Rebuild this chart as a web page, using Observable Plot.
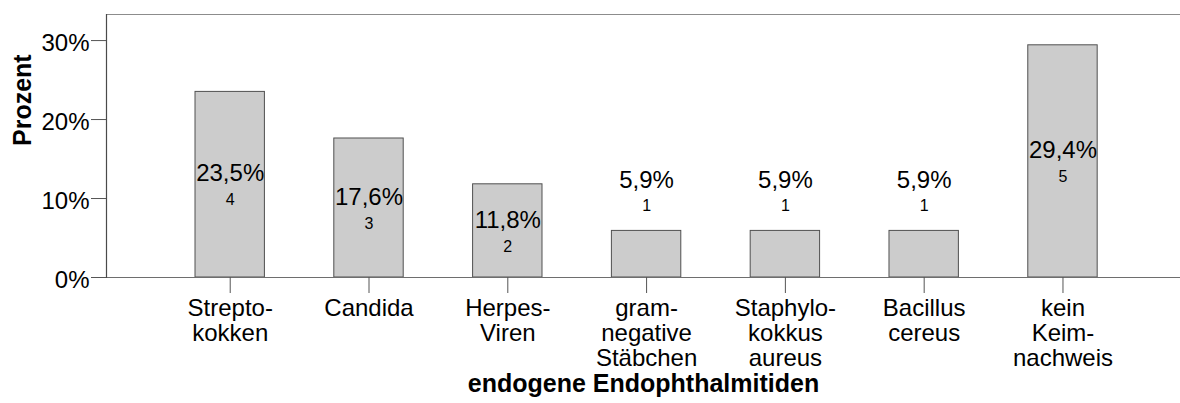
<!DOCTYPE html>
<html>
<head>
<meta charset="utf-8">
<script src="https://cdn.jsdelivr.net/npm/d3@7"></script>
<script src="https://cdn.jsdelivr.net/npm/@observablehq/plot@0.6"></script>
<style>
  html, body { margin: 0; padding: 0; background: #fff; }
  body { font-family: Arial, "Liberation Sans", sans-serif; }
</style>
</head>
<body>
<div id="chart"></div>
<script>
const categories = [
  "Strepto-\nkokken",
  "Candida",
  "Herpes-\nViren",
  "gram-\nnegative\nStäbchen",
  "Staphylo-\nkokkus\naureus",
  "Bacillus\ncereus",
  "kein\nKeim-\nnachweis"
];
const percents = [23.5, 17.6, 11.8, 5.9, 5.9, 5.9, 29.4];
const counts = [4, 3, 2, 1, 1, 1, 5];
const yTicks = [0, 10, 20, 30];
const xTitle = "endogene Endophthalmitiden";
const yTitle = "Prozent";

const data = categories.map((c, i) => ({
  cat: c,
  pct: percents[i],
  n: counts[i],
  label: percents[i].toFixed(1).replace(".", ",") + "%",
  inside: percents[i] >= 10
}));

const font = "Arial, 'Liberation Sans', sans-serif";

const chart = Plot.plot({
  width: 1180,
  height: 403,
  marginTop: 14,
  marginBottom: 126,
  marginLeft: 106,
  marginRight: 0,
  style: { fontFamily: font, background: "#fff", overflow: "visible" },
  x: { domain: categories, paddingInner: 0.5, paddingOuter: 0.619, align: 0.518, round: false, label: null },
  y: { domain: [0, 33.3], label: null },
  marks: [
    Plot.barY(data, { x: "cat", y: "pct", fill: "#cccccc", stroke: "#505050", strokeWidth: 1 }),
    Plot.ruleY([33.3], { stroke: "#8c8c8c", strokeWidth: 1.2 }),
    Plot.ruleY([0], { stroke: "#6e6e6e", strokeWidth: 1.2 }),
    Plot.frame({ anchor: "left", stroke: "#4a4a4a", strokeWidth: 1.2 }),
    Plot.axisY({ ticks: yTicks, tickSize: 15, text: null, stroke: "#555", label: null }),
    Plot.axisY({ ticks: yTicks, tickFormat: d => d + "%", tickSize: 0, tickPadding: 17,
      fontSize: 24, dy: 3, fill: "#000", label: null }),
    Plot.axisX({ tickSize: 16, tickPadding: 5, fontSize: 24, lineHeight: 1.04,
      stroke: "#555", fill: "#000", label: null }),
    Plot.text(data.filter(d => d.inside), { x: "cat", y: d => d.pct / 2, text: "label",
      fontSize: 24, dy: -11, fill: "#000" }),
    Plot.text(data.filter(d => d.inside), { x: "cat", y: d => d.pct / 2, text: "n",
      fontSize: 16, dy: 15.5, fill: "#000" }),
    Plot.text(data.filter(d => !d.inside), { x: "cat", y: "pct", text: "label",
      fontSize: 24, dy: -51, fill: "#000" }),
    Plot.text(data.filter(d => !d.inside), { x: "cat", y: "pct", text: "n",
      fontSize: 16, dy: -25, fill: "#000" }),
    Plot.text([yTitle], { frameAnchor: "left", rotate: -90, dx: -84, fontSize: 25,
      fontWeight: "bold", fill: "#000" }),
    Plot.text([xTitle], { frameAnchor: "bottom", dy: 114, fontSize: 25,
      fontWeight: "bold", fill: "#000" })
  ]
});
document.getElementById("chart").appendChild(chart);
</script>
</body>
</html>
